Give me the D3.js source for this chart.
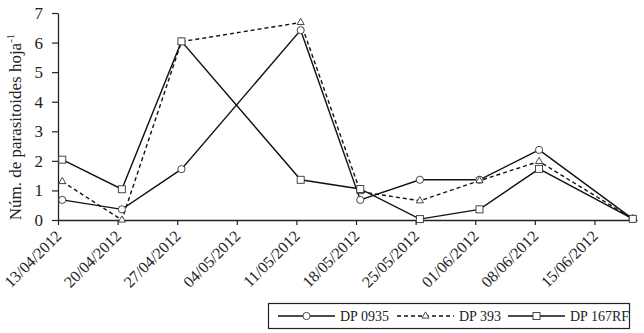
<!DOCTYPE html>
<html>
<head>
<meta charset="utf-8">
<script src="https://cdn.jsdelivr.net/npm/d3@7"></script>
<style>
  body { margin: 0; background: #fff; }
</style>
</head>
<body>
<div id="chart"></div>
<script>
// sampling dates (dd/mm/yyyy)
const dates = ["13/04/2012", "20/04/2012", "27/04/2012", "11/05/2012", "18/05/2012",
               "25/05/2012", "01/06/2012", "08/06/2012", "19/06/2012"];
const dp0935 = [0.68, 0.36, 1.72, 6.42, 0.68, 1.36, 1.36, 2.37, 0.04];
const dp393 = [1.30, 0.00, 6.03, 6.68, 0.96, 0.65, 1.33, 1.98, 0.04];
const dp167rf = [2.04, 1.04, 6.04, 1.36, 1.05, 0.03, 0.36, 1.73, 0.04];
const seriesNames = ["DP 0935", "DP 393", "DP 167RF"];
const tickDates = ["13/04/2012", "20/04/2012", "27/04/2012", "04/05/2012", "11/05/2012",
                   "18/05/2012", "25/05/2012", "01/06/2012", "08/06/2012", "15/06/2012"];
const yTicks = [0, 1, 2, 3, 4, 5, 6, 7];

const width = 644, height = 333;
const FONT = "'Liberation Serif', 'Times New Roman', serif";
const parse = d3.timeParse("%d/%m/%Y");
const fmt = d3.timeFormat("%d/%m/%Y");

const svg = d3.select("#chart").append("svg")
  .attr("width", width)
  .attr("height", height)
  .attr("font-family", FONT);

// x is a date axis, points sit half a day right of their tick
const xScale = d3.scaleTime()
  .domain([parse("13/04/2012"), parse("20/06/2012")])
  .range([58, 637]);
const yScale = d3.scaleLinear().domain([0, 7]).range([220, 13]);
const xp = (s) => xScale(d3.timeHour.offset(parse(s), 12));

// axes
const xAxis = svg.append("g")
  .attr("transform", "translate(0,220)")
  .call(d3.axisBottom(xScale)
    .tickValues(tickDates.map(parse))
    .tickFormat(fmt)
    .tickSize(5)
    .tickSizeOuter(0));
xAxis.attr("font-family", FONT);
xAxis.select(".domain").attr("stroke", "#222").attr("stroke-width", 1.3);
xAxis.selectAll(".tick line").attr("stroke", "#222").attr("stroke-width", 1.2);
xAxis.selectAll(".tick text")
  .attr("font-size", 16)
  .attr("fill", "#222")
  .attr("text-anchor", "end")
  .attr("dy", 0)
  .attr("transform", "translate(4,17) rotate(-45)")
  .attr("y", 0)
  .attr("x", 0);

const yAxis = svg.append("g")
  .attr("transform", "translate(58,0)")
  .call(d3.axisLeft(yScale).tickValues(yTicks).tickFormat(d3.format("d"))
    .tickSize(6).tickSizeOuter(0).tickPadding(9));
yAxis.attr("font-family", FONT);
yAxis.select(".domain").attr("stroke", "#222").attr("stroke-width", 1.3);
yAxis.selectAll(".tick line").attr("stroke", "#222").attr("stroke-width", 1.2);
yAxis.selectAll(".tick text").attr("font-size", 17).attr("fill", "#222");

// y label
const yl = svg.append("text")
  .attr("transform", "translate(21,127) rotate(-90)")
  .attr("text-anchor", "middle")
  .attr("fill", "#222")
  .attr("font-size", 17);
yl.append("tspan").text("Núm. de parasitoides hoja");
yl.append("tspan").attr("font-size", 11).attr("dy", -7).text("-1");

const series = [
  { name: seriesNames[0], values: dp0935, dash: null, marker: "circle" },
  { name: seriesNames[1], values: dp393, dash: "4,3", marker: "triangle" },
  { name: seriesNames[2], values: dp167rf, dash: null, marker: "square" }
];

const line = d3.line()
  .x((d, i) => xp(dates[i]))
  .y((d) => yScale(d));

function drawMarker(g, type, x, y) {
  if (type === "circle") {
    g.append("circle").attr("cx", x).attr("cy", y).attr("r", 3.6)
      .attr("fill", "#fff").attr("stroke", "#333").attr("stroke-width", 0.9);
  } else if (type === "triangle") {
    g.append("path")
      .attr("d", d3.symbol(d3.symbolTriangle, 22)())
      .attr("transform", `translate(${x},${y})`)
      .attr("fill", "#fff").attr("stroke", "#333").attr("stroke-width", 0.9);
  } else {
    g.append("rect").attr("x", x - 3.5).attr("y", y - 3.5)
      .attr("width", 7).attr("height", 7)
      .attr("fill", "#fff").attr("stroke", "#333").attr("stroke-width", 0.9);
  }
}

series.forEach((s) => {
  svg.append("path")
    .datum(s.values)
    .attr("fill", "none")
    .attr("stroke", "#111")
    .attr("stroke-width", 1.4)
    .attr("stroke-dasharray", s.dash)
    .attr("d", line);
});
series.forEach((s) => {
  const g = svg.append("g");
  s.values.forEach((v, i) => drawMarker(g, s.marker, xp(dates[i]), yScale(v)));
});

// legend
const leg = svg.append("g");
leg.append("rect")
  .attr("x", 268.5).attr("y", 303.5)
  .attr("width", 361).attr("height", 25)
  .attr("fill", "#fff").attr("stroke", "#222").attr("stroke-width", 1.2);
const legX = [278, 397, 508];
series.forEach((s, i) => {
  const x0 = legX[i];
  leg.append("line")
    .attr("x1", x0).attr("x2", x0 + 57)
    .attr("y1", 316).attr("y2", 316)
    .attr("stroke", "#111").attr("stroke-width", 1.3)
    .attr("stroke-dasharray", s.dash);
  drawMarker(leg, s.marker, x0 + 28.5, 316);
  leg.append("text")
    .attr("x", x0 + 62).attr("y", 321)
    .attr("font-size", 14)
    .attr("fill", "#222")
    .text(s.name);
});
</script>
</body>
</html>
